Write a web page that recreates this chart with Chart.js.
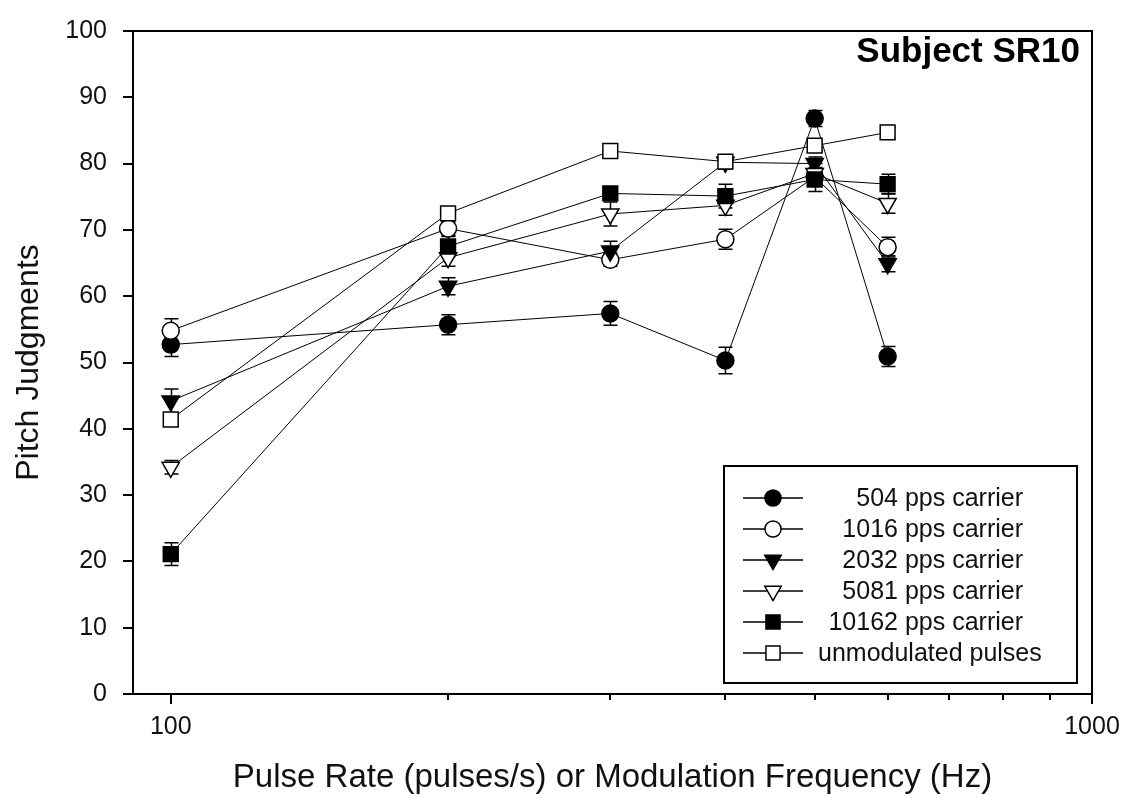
<!DOCTYPE html>
<html>
<head>
<meta charset="utf-8">
<script src="https://cdn.jsdelivr.net/npm/chart.js@4"></script>
<style>
  html, body { margin: 0; padding: 0; background: #fff; }
  #wrap { width: 1128px; height: 798px; }
</style>
</head>
<body>
<div id="wrap"><canvas id="chart" width="1128" height="798"></canvas></div>
<script>
const rates = [100, 200, 300, 400, 500, 600];
const xTicks = [100, 200, 300, 400, 500, 600, 700, 800, 900, 1000];
const xLabelled = [100, 1000];

const seriesNames = ['504 pps carrier', '1016 pps carrier', '2032 pps carrier', '5081 pps carrier', '10162 pps carrier', 'unmodulated pulses'];
const c504 = [52.7, 55.7, 57.4, 50.3, 86.8, 50.9];
const c1016 = [54.8, 70.2, 65.5, 68.6, 78.0, 67.4];
const c2032 = [44.2, 61.5, 66.8, 80.2, 80.0, 64.9];
const c5081 = [34.2, 65.8, 72.4, 73.7, 78.5, 74.0];
const c10162 = [21.1, 67.5, 75.5, 75.1, 77.6, 76.9];
const unmod = [41.4, 72.5, 81.9, 80.3, 82.7, 84.7];

const e504 = [1.8, 1.5, 1.8, 2.0, 1.2, 1.5];
const e1016 = [1.8, 1.0, 1.0, 1.5, 1.2, 1.5];
const e2032 = [1.8, 1.3, 1.5, 1.0, 1.0, 1.2];
const e5081 = [1.0, 1.3, 1.8, 1.5, 1.5, 1.5];
const e10162 = [1.7, 1.5, 1.0, 1.8, 1.8, 1.5];
const eUnmod = [1.0, 0.8, 0.5, 0.8, 0.8, 0.8];

const FONT = "'Liberation Sans', Arial, sans-serif";

// marker look per series: [pointStyle, filled, radius, rotation]
const markers = [
  ['circle', true, 8.5, 0],
  ['circle', false, 8.5, 0],
  ['triangle', true, 10, 180],
  ['triangle', false, 10, 180],
  ['rect', true, 10.5, 0],
  ['rect', false, 10.5, 0]
];

const values = [c504, c1016, c2032, c5081, c10162, unmod];
const errors = [e504, e1016, e2032, e5081, e10162, eUnmod];

const datasets = values.map((vals, i) => {
  const [style, filled, r, rot] = markers[i];
  return {
    label: seriesNames[i],
    data: vals.map((v, j) => ({ x: rates[j], y: v })),
    errors: errors[i],
    order: -i,
    borderColor: '#000',
    borderWidth: 1,
    backgroundColor: filled ? '#000' : '#fff',
    pointStyle: style,
    pointRadius: r,
    pointRotation: rot,
    pointBorderColor: '#000',
    pointBackgroundColor: filled ? '#000' : '#fff',
    pointBorderWidth: 1.5,
    tension: 0,
    clip: false
  };
});

const errorBars = {
  id: 'errorBars',
  beforeDatasetsDraw(chart) {
    const { ctx, scales: { x, y } } = chart;
    ctx.save();
    ctx.strokeStyle = '#000';
    ctx.lineWidth = 1.5;
    chart.data.datasets.forEach((ds) => {
      ds.data.forEach((p, j) => {
        const e = ds.errors[j];
        const px = Math.round(x.getPixelForValue(p.x)) + 0.5;
        const top = y.getPixelForValue(p.y + e);
        const bot = y.getPixelForValue(p.y - e);
        ctx.beginPath();
        ctx.moveTo(px, top); ctx.lineTo(px, bot);
        ctx.moveTo(px - 7, top); ctx.lineTo(px + 7, top);
        ctx.moveTo(px - 7, bot); ctx.lineTo(px + 7, bot);
        ctx.stroke();
      });
    });
    ctx.restore();
  }
};

const frame = {
  id: 'frame',
  afterDraw(chart) {
    const { ctx, chartArea: a, scales: { x } } = chart;
    ctx.save();
    ctx.strokeStyle = '#000';
    ctx.lineWidth = 2;
    ctx.beginPath();
    ctx.moveTo(a.left - 10, a.top);
    ctx.lineTo(a.right, a.top);
    ctx.lineTo(a.right, a.bottom + 10);
    ctx.stroke();

    // short minor ticks on the log axis
    xTicks.filter((t) => !xLabelled.includes(t)).forEach((t) => {
      const px = Math.round(x.getPixelForValue(t));
      ctx.beginPath();
      ctx.moveTo(px, a.bottom);
      ctx.lineTo(px, a.bottom + 6);
      ctx.stroke();
    });

    // subject label
    ctx.fillStyle = '#000';
    ctx.font = `bold 35px ${FONT}`;
    ctx.textAlign = 'right';
    ctx.textBaseline = 'alphabetic';
    ctx.fillText('Subject SR10', 1080, 62);

    // legend
    const box = { left: 724, top: 466, right: 1077, bottom: 683 };
    ctx.lineWidth = 2;
    ctx.strokeRect(box.left, box.top, box.right - box.left, box.bottom - box.top);
    ctx.font = `25px ${FONT}`;
    ctx.textAlign = 'left';
    ctx.textBaseline = 'middle';
    seriesNames.forEach((name, i) => {
      const yy = 498 + i * 31;
      const [style, filled, r, rot] = markers[i];
      ctx.lineWidth = 1.5;
      ctx.beginPath();
      ctx.moveTo(743, yy); ctx.lineTo(803, yy);
      ctx.stroke();
      ctx.fillStyle = filled ? '#000' : '#fff';
      Chart.helpers.drawPoint(ctx, { pointStyle: style, radius: r * 0.95, rotation: rot, borderWidth: 1.5 }, 773, yy);
      ctx.fillStyle = '#111';
      const w = ctx.measureText(name).width;
      ctx.fillText(name, Math.max(818, 1023 - w), yy + 1);
    });
    ctx.restore();
  }
};

new Chart(document.getElementById('chart'), {
  type: 'line',
  data: { datasets },
  plugins: [errorBars, frame],
  options: {
    responsive: false,
    animation: false,
    layout: { padding: { left: 0, top: 24, right: 36, bottom: 0 } },
    plugins: { legend: { display: false }, tooltip: { enabled: false } },
    scales: {
      x: {
        type: 'logarithmic',
        min: 91,
        max: 1000,
        afterBuildTicks: (s) => { s.ticks = xTicks.map((v) => ({ value: v })); },
        afterFit: (s) => { s.height = 104; },
        border: { color: '#000', width: 2 },
        grid: {
          drawOnChartArea: false,
          tickLength: 10,
          lineWidth: 2,
          tickColor: (c) => (c.tick && xLabelled.includes(c.tick.value) ? '#000' : 'rgba(0,0,0,0)')
        },
        ticks: {
          autoSkip: false,
          maxRotation: 0,
          padding: 8,
          color: '#111',
          font: { family: FONT, size: 25 },
          callback: (v) => (xLabelled.includes(v) ? String(v) : '')
        },
        title: {
          display: true,
          text: 'Pulse Rate (pulses/s) or Modulation Frequency (Hz)',
          color: '#111',
          font: { family: FONT, size: 33 },
          padding: { top: 0, bottom: 0 }
        }
      },
      y: {
        min: 0,
        max: 100,
        afterFit: (s) => { s.width = 133; },
        border: { color: '#000', width: 2 },
        grid: { drawOnChartArea: false, tickLength: 10, lineWidth: 2, color: '#000' },
        ticks: {
          stepSize: 10,
          padding: 16,
          color: '#111',
          font: { family: FONT, size: 25 }
        },
        title: {
          display: true,
          text: 'Pitch Judgments',
          color: '#111',
          font: { family: FONT, size: 32 },
          padding: { top: 10, bottom: 0 }
        }
      }
    }
  }
});
</script>
</body>
</html>
